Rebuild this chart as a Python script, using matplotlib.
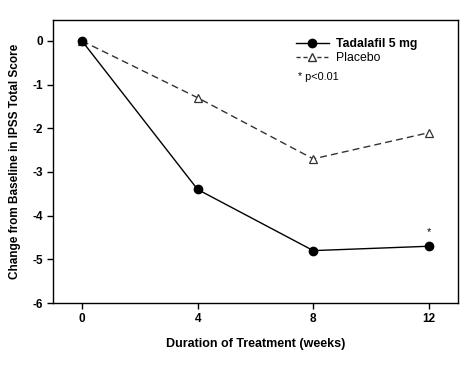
import matplotlib.pyplot as plt
from matplotlib.lines import Line2D

plt.rcParams['font.family'] = ['Liberation Sans', 'DejaVu Sans']
plt.rcParams['axes.unicode_minus'] = False

weeks = [0, 4, 8, 12]
tadalafil = [0, -3.4, -4.8, -4.7]
placebo = [0, -1.3, -2.7, -2.1]
y_ticks = [0, -1, -2, -3, -4, -5, -6]

fig = plt.figure(figsize=(4.7, 3.7), dpi=100)
ax = fig.add_axes([0.113, 0.181, 0.861, 0.765])

ax.plot(weeks, placebo, color='#333333', linestyle='--', dashes=(5, 3), lw=1.0,
        marker='^', markersize=6, markerfacecolor='white', markeredgecolor='#333333',
        markeredgewidth=0.9, zorder=3)
ax.plot(weeks, tadalafil, color='black', lw=1.0, marker='o', markersize=6,
        markerfacecolor='black', zorder=4)

ax.text(weeks[-1], tadalafil[-1] + 0.2, '*', ha='center', va='bottom', fontsize=8)

ax.set_xlim(-1, 13)
ax.set_ylim(-6, 0.48)
ax.set_xticks(weeks)
ax.set_yticks(y_ticks)
ax.tick_params(direction='out', length=4, width=1, labelsize=8.5)
for lab in ax.get_xticklabels() + ax.get_yticklabels():
    lab.set_fontweight('bold')
for s in ax.spines.values():
    s.set_linewidth(1.0)

ax.set_xlabel('Duration of Treatment (weeks)', fontsize=9, fontweight='bold', labelpad=9)
ax.set_ylabel('Change from Baseline in IPSS Total Score', fontsize=8.5, fontweight='bold', labelpad=8)

handles = [
    Line2D([], [], color='black', lw=1.0, marker='o', markersize=6),
    Line2D([], [], color='#333333', lw=1.0, linestyle='--', dashes=(3, 2), marker='^',
           markersize=6, markerfacecolor='white', markeredgecolor='#333333'),
]
leg = ax.legend(handles, ['Tadalafil 5 mg', 'Placebo'], loc='upper left',
                bbox_to_anchor=(0.60, 0.935), frameon=False, fontsize=8.8,
                borderpad=0, borderaxespad=0,
                handlelength=2.7, handletextpad=0.55, labelspacing=0.12)
leg.get_texts()[0].set_fontweight('bold')
ax.text(0.605, 0.80, '* p<0.01', transform=ax.transAxes, fontsize=7.8, va='center')

fig.savefig('out.png', dpi=100)
